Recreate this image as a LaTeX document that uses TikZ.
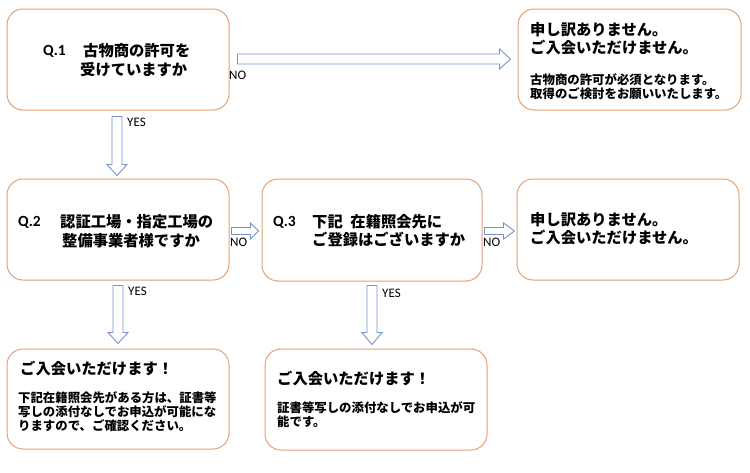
\documentclass[tikz,border=0pt]{standalone}
\usepackage{fontspec}
\setmainfont{Carlito}
\newfontfamily\jp{Noto Sans CJK JP}
\usetikzlibrary{calc}
\definecolor{boxc}{RGB}{228,160,112}
\definecolor{arrc}{RGB}{118,148,200}
\newcommand\harrow[5]{\draw[barrow] ($#1+(0,-#3)$) -- ($#2+(-#5,-#3)$) -- ($#2+(-#5,-#4)$) -- #2 -- ($#2+(-#5,#4)$) -- ($#2+(-#5,#3)$) -- ($#1+(0,#3)$) -- cycle;}
\newcommand\varrow[5]{\draw[barrow] ($#1+(-#3,0)$) -- ($#2+(-#3,-#5)$) -- ($#2+(-#4,-#5)$) -- #2 -- ($#2+(#4,-#5)$) -- ($#2+(#3,-#5)$) -- ($#1+(#3,0)$) -- cycle;}
\tikzset{
  box/.style={draw=boxc, line width=1pt, rounded corners=16pt, rectangle, inner sep=0pt, fill=white},
  barrow/.style={draw=arrc, line width=0.9pt, fill=white, line join=miter},
  qlab/.style={anchor=west, inner sep=0pt, font=\bfseries\fontsize{15.5}{18}\selectfont},
  big/.style={anchor=west, inner sep=0pt, font=\jp\bfseries\fontsize{15.3}{18}\selectfont},
  small/.style={anchor=west, inner sep=0pt, font=\jp\bfseries\fontsize{12.4}{14}\selectfont},
  yn/.style={anchor=west, inner sep=0pt, font=\fontsize{13}{15}\selectfont}
}
\begin{document}
\begin{tikzpicture}[x=1pt,y=-1pt]
\useasboundingbox (0,0) rectangle (750,472);
% boxes
\node[box, minimum width=222pt, minimum height=101pt] (q1) at (118,59.5) {};
\node[box, minimum width=223pt, minimum height=101pt] (ng1) at (629.5,59.5) {};
\node[box, minimum width=222pt, minimum height=101pt] (q2) at (118,229.5) {};
\node[box, minimum width=220pt, minimum height=102pt] (q3) at (372,230) {};
\node[box, minimum width=222pt, minimum height=101pt] (ng2) at (628,229.5) {};
\node[box, minimum width=222pt, minimum height=100pt] (ok1) at (118,399) {};
\node[box, minimum width=222pt, minimum height=101pt] (ok2) at (376,399.5) {};
% texts
\node[qlab] (t1a) at (43,51) {Q.1};
\node[big] (t1b) at (83,51) {古物商の許可を};
\node[big] (t1c) at (80,70) {受けていますか};
\node[big] (t2a) at (530,30) {申し訳ありません。};
\node[big] (t2b) at (530,48) {ご入会いただけません。};
\node[small] (t2c) at (530,80) {古物商の許可が必須となります。};
\node[small] (t2d) at (530,94) {取得のご検討をお願いいたします。};
\node[qlab] (t3a) at (18,222) {Q.2};
\node[big] (t3b) at (60,222) {認証工場・指定工場の};
\node[big] (t3c) at (62,241) {整備事業者様ですか};
\node[qlab] (t4a) at (273,222) {Q.3};
\node[big] (t4b) at (312,222) {下記\hspace{0.5em}在籍照会先に};
\node[big] (t4c) at (312,240) {ご登録はございますか};
\node[big] (t5a) at (530,220) {申し訳ありません。};
\node[big] (t5b) at (530,238) {ご入会いただけません。};
\node[big] (t6a) at (20,369) {ご入会いただけます！};
\node[small] (t6b) at (18,398) {下記在籍照会先がある方は、証書等};
\node[small] (t6c) at (18,412) {写しの添付なしでお申込が可能にな};
\node[small] (t6d) at (18,426) {りますので、ご確認ください。};
\node[big] (t7a) at (277,379) {ご入会いただけます！};
\node[small] (t7b) at (277,408) {証書等写しの添付なしでお申込が可};
\node[small] (t7c) at (277,422) {能です。};
% arrows
\coordinate (a1s) at ($(q1.east)+(8,-0.5)$);
\coordinate (a1e) at ($(ng1.west)+(-7,-0.5)$);
\harrow{(a1s)}{(a1e)}{5}{10}{11}
\coordinate (a2s) at ($(q2.east)+(2,1.5)$);
\coordinate (a2e) at ($(q3.west)+(-3,1)$);
\harrow{(a2s)}{(a2e)}{3.5}{8}{8}
\coordinate (a3s) at ($(q3.east)+(2,1)$);
\coordinate (a3e) at ($(ng2.west)+(-2,1.5)$);
\harrow{(a3s)}{(a3e)}{3.5}{8}{11}
\coordinate (d1s) at ($(q1.south)+(-1,6)$);
\coordinate (d1e) at ($(q2.north)+(-1,-3)$);
\varrow{(d1s)}{(d1e)}{5}{10}{11}
\coordinate (d2s) at ($(q2.south)+(0,5)$);
\coordinate (d2e) at ($(ok1.north)+(0,-5)$);
\varrow{(d2s)}{(d2e)}{5}{10}{11}
\coordinate (d3s) at ($(q3.south)+(0,4)$);
\coordinate (d3e) at ($(ok2.north)+(-4,-4)$);
\varrow{(d3s)}{(d3e)}{5}{10}{12}
% labels
\node[yn] (no1) at (229,75) {NO};
\node[yn] (no2) at (230,242) {NO};
\node[yn] (no3) at (483,242) {NO};
\node[yn] (y1) at (127,122) {YES};
\node[yn] (y2) at (128,291) {YES};
\node[yn] (y3) at (382,293) {YES};
\end{tikzpicture}
\end{document}
